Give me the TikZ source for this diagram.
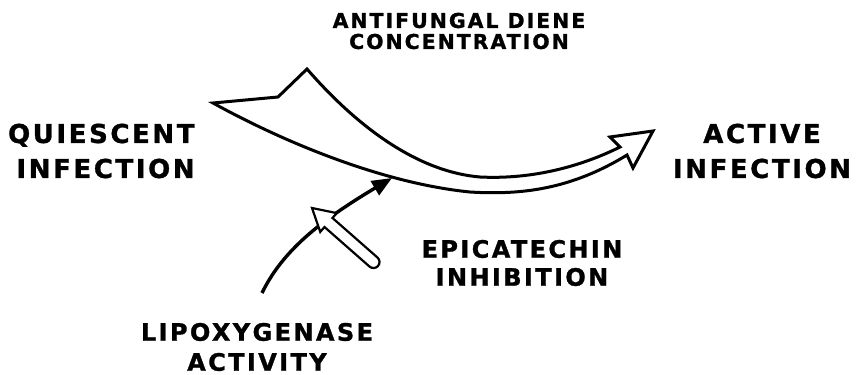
\documentclass[tikz,border=0pt]{standalone}
\usepackage{fontspec}
\newfontfamily\labelfont[LetterSpace=10, BoldFeatures={FakeBold=1.2}]{DejaVu Sans}
\usepackage{tikz}
\usetikzlibrary{arrows.meta}

\begin{document}
\begin{tikzpicture}[x=0.5pt, y=-0.5pt, line join=miter,
    biglbl/.style={font=\labelfont\bfseries\fontsize{13}{17.5}\selectfont, align=center, inner sep=0pt},
    smalllbl/.style={font=\labelfont\bfseries\fontsize{12}{14}\selectfont, align=center, inner sep=0pt}]
    \useasboundingbox (0,0) rectangle (858,375);
    % labels
    \node[biglbl, align=right, anchor=east] (quiescent) at (195,151) {QUIESCENT\\INFECTION};
    \node[biglbl] (active) at (762,151) {ACTIVE\\INFECTION};
    \node[smalllbl, font=\labelfont\bfseries\fontsize{10.2}{10.5}\selectfont] (diene) at (459,31) {ANTIFUNGAL DIENE\\CONCENTRATION};
    \node[smalllbl] (epicatechin) at (522,263) {EPICATECHIN\\INHIBITION};
    \node[smalllbl, font=\labelfont\bfseries\fontsize{12}{15}\selectfont] (lipox) at (257,347) {LIPOXYGENASE\\ACTIVITY};
    % big curved arrow
    \draw[line width=1.5pt, fill=white] (213,103) -- (278,97) -- (307,69)
        .. controls (360,130) and (420,172) .. (480,177)
        .. controls (540,180) and (590,162) .. (620,147)
        -- (610,137) -- (653,131) -- (633,168) -- (627,155)
        .. controls (570,190) and (520,195) .. (470,192)
        .. controls (380,183) and (280,140) .. (213,103) -- cycle;
    % lipoxygenase path
    \coordinate (lox) at (262,293);
    \coordinate (hit) at (392,178);
    \draw[line width=1.7pt, -{Triangle[length=10pt,width=8pt]}] (lox) .. controls (282,252) and (318,222) .. (hit);
    % inhibition arrow
    \draw[line width=1.1pt, fill=white] (312,208) -- (336.75,213.1) -- (332.5,218)
        [rounded corners=3pt] -- (382,261.5) -- (374,270.5) [sharp corners] -- (324.5,227)
        -- (320.25,231.9) -- cycle;
\end{tikzpicture}
\end{document}
